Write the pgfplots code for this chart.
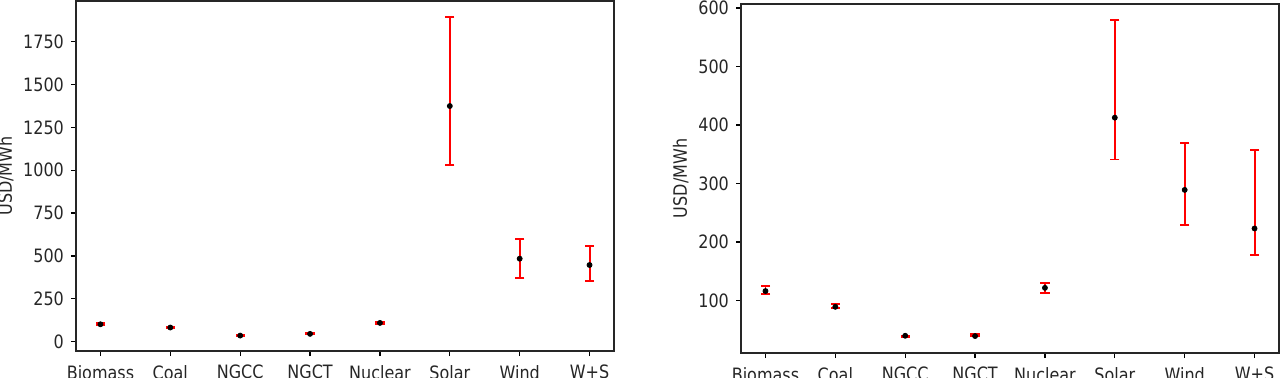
\documentclass[border=0pt]{standalone}
\usepackage{pgfplots}
\pgfplotsset{compat=1.18}
\usepackage{fontspec}
\setmainfont{DejaVu Sans}[FakeStretch=0.87]
\begin{document}
\begin{tikzpicture}[font=\fontsize{9.2}{10}\selectfont]
\pgfplotsset{
  myax/.style={
    scale only axis,
    width=269pt,
    xmin=-0.35, xmax=7.35,
    xtick={0,...,7},
    xticklabels={Biomass,Coal,NGCC,NGCT,Nuclear,Solar,Wind,W+S},
    tick align=outside,
    xtick pos=bottom, ytick pos=left,
    major tick length=2.5pt,
    tick style={black, line width=0.6pt},
    axis line style={line width=0.8pt, black!85},
    ylabel={USD/MWh},
    /pgf/number format/assume math mode=true,
    /pgf/number format/set thousands separator={},
    ticklabel style={text=black!85},
    xticklabel style={yshift=-1pt},
    label style={text=black!85},
    ylabel style={yshift=-2pt},
    unbounded coords=jump,
  },
  eb/.style={draw=red, line width=0.95pt, mark=-, mark size=2.3pt,
    mark options={draw=red, line width=0.95pt, solid}},
  pts/.style={only marks, mark=*, mark size=1.25pt, color=black, mark options={draw=black, fill=black}},
}
\begin{axis}[myax, at={(38pt,13pt)}, anchor=south west, height=175pt,
  ymin=-55, ymax=1988, ytick={0,250,...,1750}]
% error bars: (x, lower) (x, upper)
\addplot[eb] coordinates {
 (0,96) (0,107) (0,nan)
 (1,79) (1,86) (1,nan)
 (2,32) (2,38) (2,nan)
 (3,42) (3,48) (3,nan)
 (4,102) (4,112) (4,nan)
 (5,1029) (5,1893) (5,nan)
 (6,373) (6,597) (6,nan)
 (7,354) (7,560)
};
\addplot[pts] coordinates {
 (0,101) (1,82) (2,35) (3,45) (4,109) (5,1375) (6,484) (7,447)
};
\end{axis}
\begin{axis}[myax, at={(370.5pt,12pt)}, anchor=south west, height=174.5pt,
  ymin=10, ymax=607, ytick={100,200,...,600}]
\addplot[eb] coordinates {
 (0,110.8) (0,124.4) (0,nan)
 (1,86.3) (1,93.7) (1,nan)
 (2,37) (2,40) (2,nan)
 (3,38.5) (3,42) (3,nan)
 (4,113) (4,129.6) (4,nan)
 (5,341) (5,580) (5,nan)
 (6,229) (6,369) (6,nan)
 (7,177) (7,358)
};
\addplot[pts] coordinates {
 (0,116) (1,89) (2,39.5) (3,39) (4,121.5) (5,412.6) (6,289) (7,223)
};
\end{axis}
\pgfresetboundingbox
\path[use as bounding box] (0,0) rectangle (640pt,188.5pt);
\end{tikzpicture}
\end{document}
